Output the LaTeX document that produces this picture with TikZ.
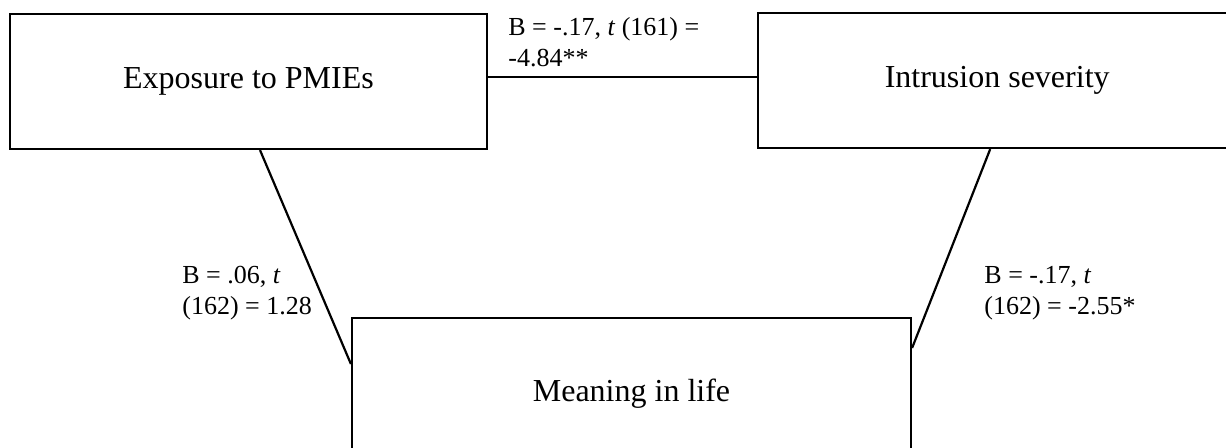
\documentclass[tikz,border=0pt]{standalone}
\usepackage{fontspec}
\setmainfont{Liberation Serif}
\usetikzlibrary{positioning}
\tikzset{
  node-box/.style={draw=black,line width=1.1pt,minimum width=238.5pt,
    minimum height=67.5pt,font=\fontsize{16}{19}\selectfont},
  node-coef/.style={anchor=base west,align=left,inner sep=0pt,
    font=\fontsize{13}{15.5}\selectfont},
  link/.style={draw=black,line width=1.1pt},
}
\begin{document}
\begin{tikzpicture}[x=0.5pt,y=-0.5pt]
  \useasboundingbox (0,0) rectangle (1226,448);
  \clip (0,0) rectangle (1226,448);
  \node[node-box] (expo) at (248.5,81.5) {Exposure to PMIEs};
  \node[node-box,minimum width=239pt,right=134.5pt of expo,yshift=0.5pt] (intr) {Intrusion severity};
  \node[node-box,minimum width=279.5pt,minimum height=76pt] (mean) at (631.5,394) {Meaning in life};
  \draw[link] ([yshift=2.25pt]expo.east) -- ([yshift=1.75pt]intr.west);
  \draw[link] ([xshift=5.75pt]expo.south) -- ([yshift=15pt]mean.west);
  \draw[link] ([xshift=-3.5pt]intr.south) -- ([yshift=23pt]mean.east);
  % base of a two-line node sits on its last line
  \node[node-coef] (coef-ei) at (508,67) {B = -.17, \textit{t} (161) =\\-4.84**};
  \node[node-coef] (coef-em) at (182,315) {B = .06, \textit{t}\\(162) = 1.28};
  \node[node-coef] (coef-im) at (984,315) {B = -.17, \textit{t}\\(162) = -2.55*};
\end{tikzpicture}
\end{document}
